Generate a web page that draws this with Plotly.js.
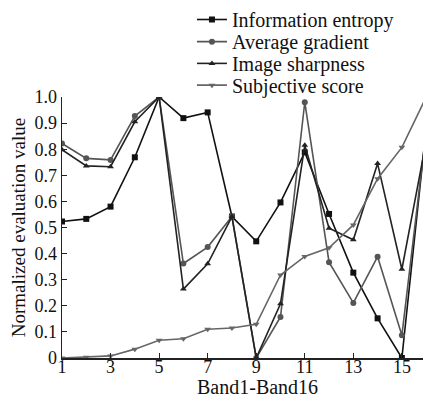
<!DOCTYPE html>
<html>
<head>
<meta charset="utf-8">
<script src="https://cdn.plot.ly/plotly-3.0.1.min.js"></script>
<style>html,body{margin:0;padding:0;background:#fff;}#chart{width:423px;height:400px;}</style>
</head>
<body>
<div id="chart"></div>
<script>
var bands = [1,2,3,4,5,6,7,8,9,10,11,12,13,14,15,16];
var infoEntropy = [0.523,0.533,0.58,0.769,1.0,0.919,0.941,0.542,0.447,0.596,0.788,0.552,0.327,0.152,0.0,0.88];
var avgGradient = [0.822,0.765,0.759,0.927,1.0,0.362,0.425,0.542,0.0,0.157,0.98,0.367,0.211,0.388,0.087,0.87];
var imgSharpness = [0.798,0.736,0.733,0.905,1.0,0.264,0.361,0.542,0.0,0.208,0.815,0.497,0.453,0.745,0.34,0.83];
var subjScore = [0.0,0.003,0.008,0.034,0.068,0.074,0.11,0.115,0.129,0.318,0.389,0.422,0.51,0.687,0.807,1.0];
var yTickVals = [0,0.1,0.2,0.3,0.4,0.5,0.6,0.7,0.8,0.9,1.0];
var yTickText = ['0','0.1','0.2','0.3','0.4','0.5','0.6','0.7','0.8','0.9','1.0'];
var xTickVals = [1,3,5,7,9,11,13,15];

var serif = 'Liberation Serif, Times New Roman, serif';
function tr(name, y, sym, col, lg){
  return {x: bands, y: y, name: name, type:'scatter', mode:'lines+markers', legend: lg,
    line:{color:col, width:1.6}, marker:{symbol:sym, size:6, color:col}};
}
var data = [
  tr('Information entropy', infoEntropy, 'square', '#111111', 'legend'),
  tr('Average gradient', avgGradient, 'circle', '#555555', 'legend2'),
  tr('Image sharpness', imgSharpness, 'triangle-up', '#222222', 'legend3'),
  tr('Subjective score', subjScore, 'triangle-down', '#666666', 'legend4')
];
function lg(ypix){
  return {x:0.36, y:(358-ypix)/264, xanchor:'left', yanchor:'middle',
    font:{family:serif, size:20, color:'#111'}, bgcolor:'rgba(0,0,0,0)'};
}
var layout = {
  width:423, height:400,
  margin:{l:62, r:0, t:94, b:42, pad:0},
  paper_bgcolor:'#fff', plot_bgcolor:'#fff',
  font:{family:serif, color:'#111', size:18},
  showlegend:true,
  legend: lg(15), legend2: lg(38), legend3: lg(60), legend4: lg(82),
  xaxis:{range:[1,15.87], tickvals:xTickVals, ticks:'inside', ticklen:5, tickcolor:'#222',
    showline:true, linecolor:'#222', linewidth:1.5, showgrid:false, zeroline:false,
    ticklabelstandoff:-8,
    tickfont:{family:serif, size:18, color:'#111'}},
  yaxis:{range:[0,1], tickvals:yTickVals, ticktext:yTickText, ticks:'inside', ticklen:5, tickcolor:'#222',
    showline:true, linecolor:'#222', linewidth:1.5, showgrid:false, zeroline:false,
    tickfont:{family:serif, size:18, color:'#111'},
    title:{text:'Normalized evaluation value', font:{family:serif, size:19, color:'#111'}, standoff:4}},
  annotations:[{text:'Band1-Band16', xref:'paper', yref:'paper', x:(257-62)/361, y:-(387-358)/264,
    xanchor:'center', yanchor:'middle', showarrow:false, font:{family:serif, size:20, color:'#111'}}]
};
Plotly.newPlot('chart', data, layout, {displayModeBar:false, staticPlot:true});
</script>
</body>
</html>
